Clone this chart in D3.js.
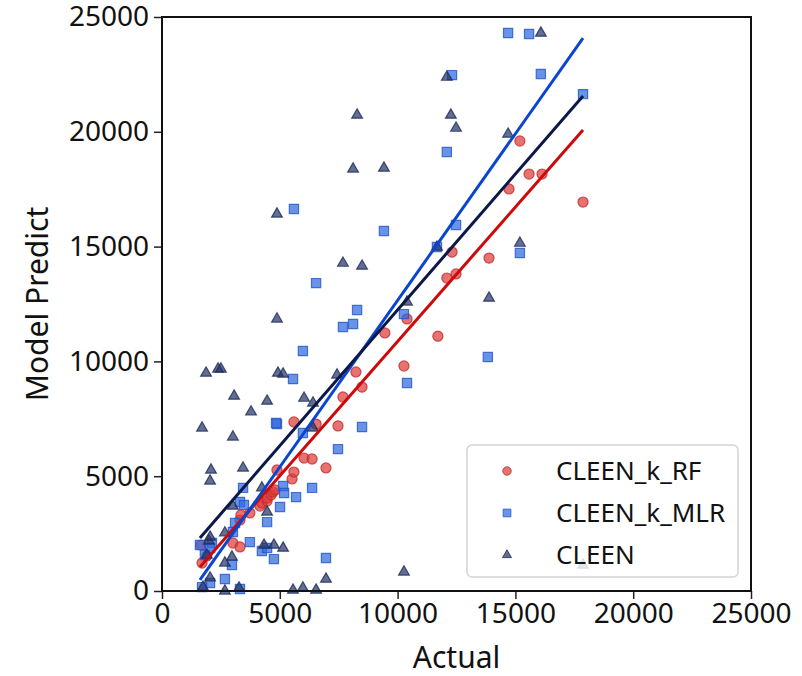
<!DOCTYPE html>
<html>
<head>
<meta charset="utf-8">
<script src="https://cdn.jsdelivr.net/npm/d3@7"></script>
<style>
	body { margin: 0; background: #fff; }
	text { font-family: "Noto Sans", "DejaVu Sans", sans-serif; fill: #111; }
</style>
</head>
<body>
<svg id="chart" width="802" height="676"></svg>
<script>
// actual vs predicted, one array of [actual, predict] per model
var rfPoints = [
	[1700, 1220], [1900, 1520], [1650, 2000], [3010, 2090], [3310, 1920],
	[3310, 3090], [3350, 3310], [3730, 3400], [4160, 3700], [4240, 3830],
	[4460, 3920], [4460, 4050], [4630, 4180], [4710, 4310], [4800, 4400],
	[4880, 5270], [5520, 4880], [5600, 5180], [6030, 5790], [6370, 5750],
	[6960, 5360], [5600, 7360], [6540, 7270], [7470, 7190], [7680, 8450],
	[8490, 8880], [8230, 9540], [10270, 9800], [9460, 11240], [10400, 11850],
	[11710, 11100], [12090, 13630], [12480, 13810], [12310, 14760], [13880, 14500],
	[14730, 17510], [15190, 19600], [15580, 18160], [16130, 18160], [17870, 16940]
];
var mlrPoints = [
	[14690, 24300], [15580, 24260], [16080, 22520], [17870, 21640], [12310, 22470],
	[12090, 19120], [12480, 15940], [11670, 14980], [15190, 14720], [13830, 10190],
	[9420, 15680], [10270, 12060], [10400, 9060], [8280, 12240], [8110, 11630],
	[7680, 11500], [6540, 13410], [5600, 16640], [5980, 10450], [5560, 9230],
	[8490, 7140], [7470, 6180], [4880, 7270], [4840, 7320], [5980, 6880],
	[6960, 1440], [5140, 4570], [5180, 4270], [5690, 4090], [6370, 4490],
	[5010, 3660], [3440, 4490], [3310, 3880], [3480, 3750], [4460, 3000],
	[3100, 2960], [3010, 2570], [1610, 2000], [2120, 2090], [3730, 2130],
	[4240, 1740], [4460, 1870], [4750, 1390], [2970, 1130], [2670, 520],
	[2040, 350], [1700, 170], [3310, 90], [2040, 1870], [1820, 1570]
];
var cleenPoints = [
	[16080, 24300], [12090, 22380], [8280, 20730], [12260, 20730], [12480, 20160],
	[14690, 19900], [8110, 18380], [9420, 18420], [4880, 16420], [7680, 14280],
	[8490, 14150], [15190, 15150], [11670, 14980], [10400, 12590], [13880, 12760],
	[4880, 11850], [1870, 9490], [2380, 9670], [2500, 9670], [4920, 9490],
	[5140, 9450], [7430, 9410], [3060, 8490], [4460, 8270], [3780, 7800],
	[6030, 8400], [6410, 8190], [1700, 7100], [3010, 6710], [6410, 7100],
	[3440, 5360], [2080, 5270], [2040, 4790], [4240, 4490], [3010, 3700],
	[4460, 3440], [1990, 2180], [2040, 2350], [4330, 2000], [4750, 2000],
	[5140, 1870], [2670, 2530], [2970, 1480], [1900, 1570], [2670, 1220],
	[2040, 570], [6960, 520], [3270, 130], [2670, 0], [5560, 40],
	[5980, 130], [6540, 40], [10270, 830], [17870, 1130], [1740, 170]
];

// fitted lines: predict at the first and last actual value
var fitActual = [1610, 17870];
var rfFit = [1050, 20080];
var mlrFit = [480, 24080];
var cleenFit = [2310, 21560];

var seriesNames = ["CLEEN_k_RF", "CLEEN_k_MLR", "CLEEN"];
var axisTicks = [0, 5000, 10000, 15000, 20000, 25000];

var svg = d3.select("#chart"),
	margin = {top: 17, right: 51, bottom: 85, left: 162},
	width = +svg.attr("width") - margin.left - margin.right,
	height = +svg.attr("height") - margin.top - margin.bottom;

var g = svg.append("g")
	.attr("transform", "translate(" + margin.left + "," + margin.top + ")");

var x = d3.scaleLinear().domain([0, 25000]).range([0, width]);
var y = d3.scaleLinear().domain([0, 25000]).range([height, 0]);

var series = [
	{name: seriesNames[0], points: rfPoints, fit: rfFit, shape: d3.symbolCircle, size: 80,
		fill: "#dc3c3c", stroke: "#c42a2a", line: "#cc0a0a"},
	{name: seriesNames[1], points: mlrPoints, fit: mlrFit, shape: d3.symbolSquare, size: 85,
		fill: "#2f68e0", stroke: "#2356c8", line: "#0a45d0"},
	{name: seriesNames[2], points: cleenPoints, fit: cleenFit, shape: d3.symbolTriangle, size: 50,
		fill: "#27366a", stroke: "#1d2a58", line: "#0b1848"}
];

// points
series.forEach(function(s) {
	var sym = d3.symbol().type(s.shape).size(s.size);
	g.append("g")
		.selectAll("path")
		.data(s.points)
		.enter().append("path")
		.attr("d", sym)
		.attr("transform", function(d) { return "translate(" + x(d[0]) + "," + y(d[1]) + ")"; })
		.attr("fill", s.fill)
		.attr("fill-opacity", 0.72)
		.attr("stroke", s.stroke)
		.attr("stroke-opacity", 0.8)
		.attr("stroke-width", 1.2);
});

// fit lines
series.forEach(function(s) {
	g.append("line")
		.attr("x1", x(fitActual[0])).attr("y1", y(s.fit[0]))
		.attr("x2", x(fitActual[1])).attr("y2", y(s.fit[1]))
		.attr("stroke", s.line)
		.attr("stroke-width", 3);
});

// axes
var xAxis = g.append("g")
	.attr("transform", "translate(0," + height + ")")
	.call(d3.axisBottom(x).tickValues(axisTicks).tickSize(8).tickPadding(4).tickFormat(d3.format("d")));
var yAxis = g.append("g")
	.call(d3.axisLeft(y).tickValues(axisTicks).tickSize(8).tickPadding(5).tickFormat(d3.format("d")));

[xAxis, yAxis].forEach(function(a) {
	a.select(".domain").remove();
	a.selectAll("line").attr("stroke", "#222").attr("stroke-width", 1.5);
	a.selectAll("text").attr("font-size", 28).attr("fill", "#111")
		.style("font-family", "'Noto Sans', sans-serif");
});

// frame
g.append("rect")
	.attr("width", width).attr("height", height)
	.attr("fill", "none").attr("stroke", "#111").attr("stroke-width", 2);

svg.append("text")
	.attr("x", margin.left + width / 2).attr("y", 668)
	.attr("text-anchor", "middle").attr("font-size", 30)
	.text("Actual");

svg.append("text")
	.attr("transform", "translate(48," + (margin.top + height / 2) + ") rotate(-90)")
	.attr("text-anchor", "middle").attr("font-size", 30)
	.text("Model Predict");

// legend
var legend = g.append("g").attr("transform", "translate(305,428)");
legend.append("rect")
	.attr("width", 271).attr("height", 132).attr("rx", 5)
	.attr("fill", "#fff").attr("fill-opacity", 0.82)
	.attr("stroke", "#d4d4d4").attr("stroke-width", 1.5);

var items = legend.selectAll("g.item")
	.data(series)
	.enter().append("g")
	.attr("class", "item")
	.attr("transform", function(d, i) { return "translate(40," + (26 + i * 42) + ")"; });

items.append("path")
	.attr("d", function(d) { return d3.symbol().type(d.shape).size(d.size * 0.7)(); })
	.attr("fill", function(d) { return d.fill; })
	.attr("fill-opacity", 0.72)
	.attr("stroke", function(d) { return d.stroke; })
	.attr("stroke-opacity", 0.8);

items.append("text")
	.attr("x", 49).attr("dy", "0.36em")
	.attr("font-size", 26)
	.text(function(d) { return d.name; });
</script>
</body>
</html>
